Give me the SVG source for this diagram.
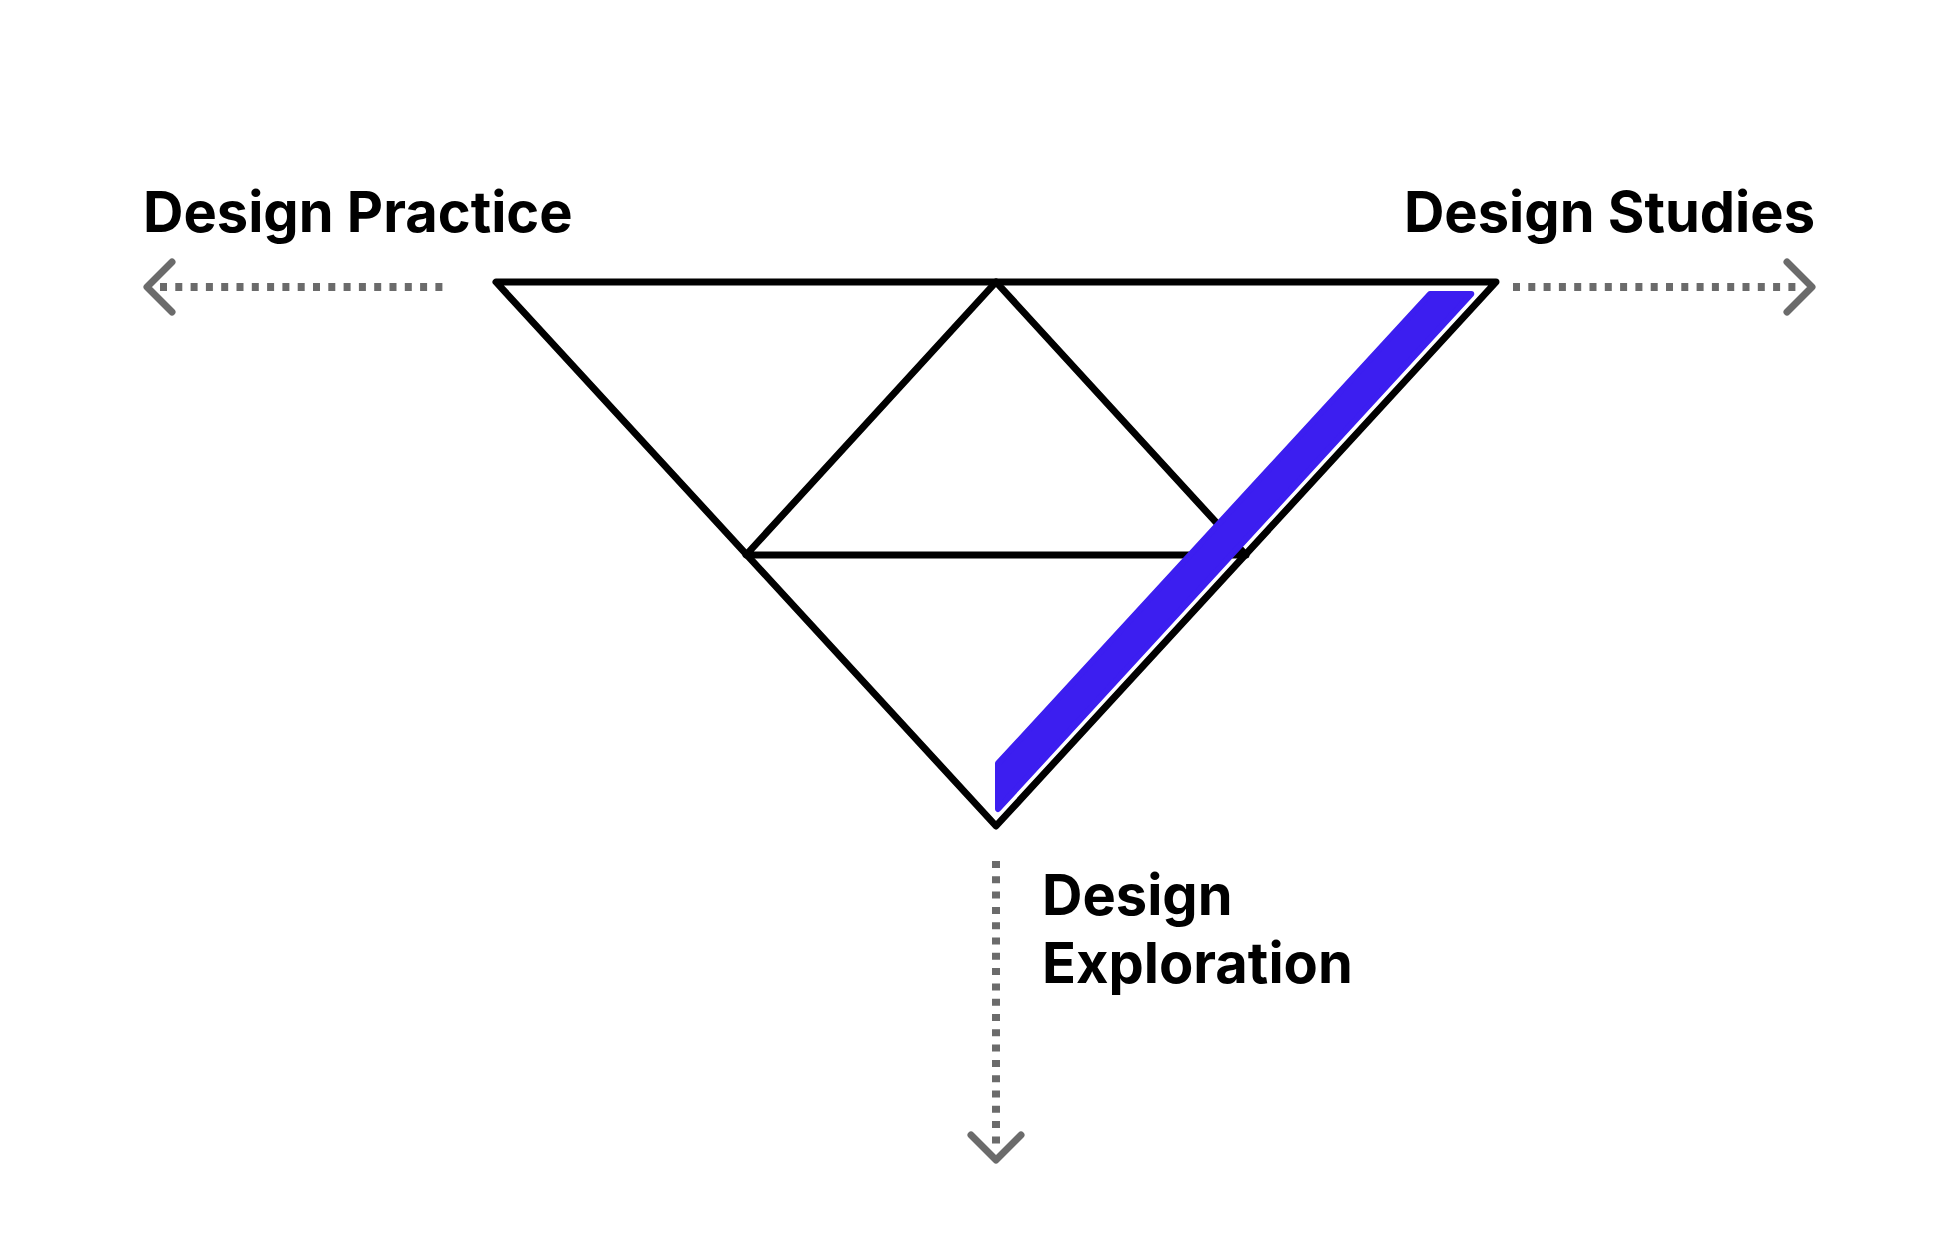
<svg xmlns="http://www.w3.org/2000/svg" width="1956" height="1252" viewBox="0 0 1956 1252">
<style>
.tri{fill:none;stroke:#000;stroke-width:7;stroke-linejoin:round;stroke-linecap:round}
.dash{fill:none;stroke:#6b6b6b;stroke-width:8;stroke-dasharray:7 8.3}
.chev{fill:none;stroke:#6b6b6b;stroke-width:7;stroke-linecap:round;stroke-linejoin:round}
.lbl{font-family:Inter,"Liberation Sans",sans-serif;font-weight:700;font-size:56px;fill:#000}
</style>
<rect width="1956" height="1252" fill="#fff"/>
<g id="outer-triangle">
<polygon class="tri" points="496,282 1496,282 996,826"/>
</g>
<g id="inner-triangle">
<polygon class="tri" points="996,282 746,555 1246,555"/>
</g>
<g id="highlight-band">
<polygon points="1430,294 1471.3,294 998,809 998,763.4" fill="#3c1ef0" stroke="#3c1ef0" stroke-width="6" stroke-linejoin="round"/>
</g>
<g id="connectors">
<line class="dash" x1="160" y1="287" x2="448" y2="287"/>
<polyline class="chev" points="172,262 147,287 172,312"/>
<line class="dash" x1="1513" y1="287" x2="1803" y2="287"/>
<polyline class="chev" points="1787,262 1812,287 1787,312"/>
<line class="dash" x1="996" y1="861" x2="996" y2="1150"/>
<polyline class="chev" points="971,1135 996,1160 1021,1135"/>
</g>
<g id="label-practice">
<text class="lbl" x="143" y="232">Design Practice</text>
</g>
<g id="label-studies">
<text class="lbl" x="1815" y="232" text-anchor="end">Design Studies</text>
</g>
<g id="label-exploration">
<text class="lbl" x="1042" y="915">Design</text>
<text class="lbl" x="1042" y="983">Exploration</text>
</g>
</svg>
